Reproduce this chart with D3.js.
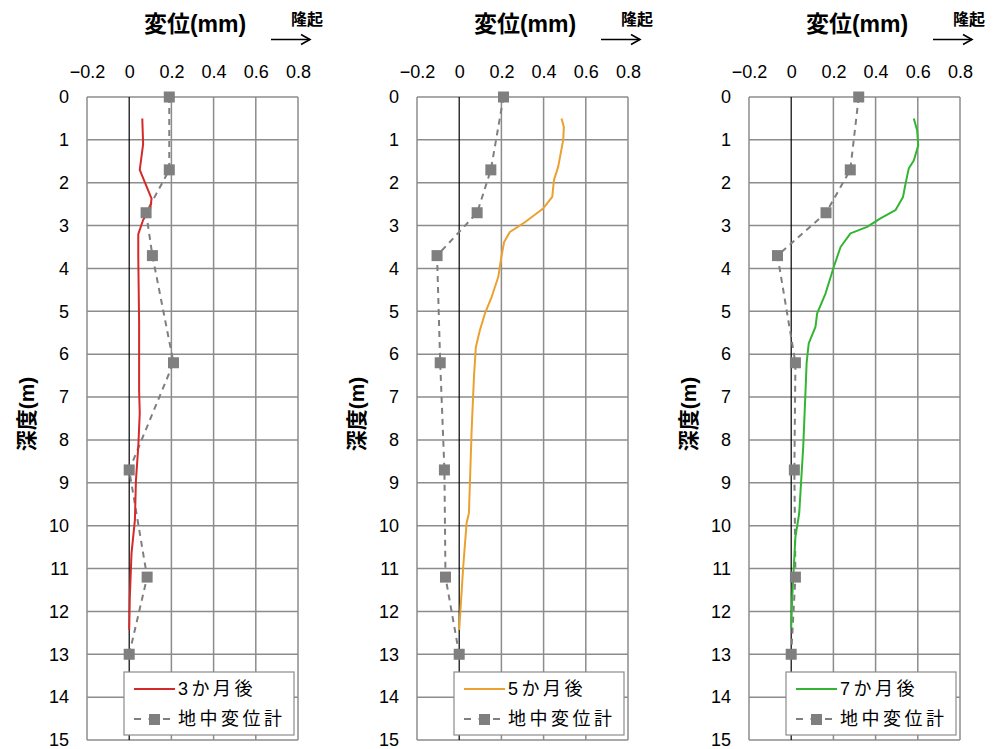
<!DOCTYPE html>
<html>
<head>
<meta charset="utf-8">
<script src="https://cdn.jsdelivr.net/npm/d3@7"></script>
<style>
  body { margin: 0; background: #fff; }
  svg { font-family: "Liberation Sans", Arial, "Noto Sans CJK JP", sans-serif; }
</style>
</head>
<body>
<svg id="chart" width="998" height="749"></svg>
<script>
// 目盛り
const xTicks = [-0.2, 0, 0.2, 0.4, 0.6, 0.8];
const yTicks = d3.range(0, 16);

// 地中変位計 (深度 m)
const gaugeDepth = [0, 1.7, 2.7, 3.7, 6.2, 8.7, 11.2, 13];
const gauge3 = [0.19, 0.19, 0.08, 0.11, 0.21, 0.0, 0.085, 0.0];
const gauge5 = [0.21, 0.15, 0.085, -0.105, -0.09, -0.07, -0.065, 0.0];
const gauge7 = [0.32, 0.28, 0.165, -0.065, 0.02, 0.015, 0.02, 0.0];

// 3か月後
const month3Depth = [0.5, 1.1, 1.7, 2.37, 2.6, 2.87, 3.2, 3.73, 5.28, 6.84, 7.38, 8.16, 8.94, 9.87, 10.64, 11.66, 12.43];
const month3Value = [0.062, 0.066, 0.05, 0.106, 0.10, 0.066, 0.043, 0.043, 0.047, 0.047, 0.05, 0.043, 0.032, 0.027, 0.011, 0.003, 0.0];

// 5か月後
const month5Depth = [0.5, 0.7, 1.0, 1.63, 1.94, 2.33, 2.6, 2.95, 3.15, 3.38, 3.73, 4.2, 4.66, 5.05, 5.44, 5.83, 6.53, 7.77, 9.71, 9.94, 10.96, 12.43];
const month5Value = [0.485, 0.496, 0.493, 0.469, 0.449, 0.441, 0.398, 0.303, 0.24, 0.213, 0.2, 0.185, 0.154, 0.122, 0.098, 0.079, 0.07, 0.059, 0.046, 0.035, 0.019, 0.0];

// 7か月後
const month7Depth = [0.5, 0.78, 1.13, 1.48, 1.67, 2.02, 2.33, 2.64, 2.83, 3.03, 3.18, 3.5, 3.96, 4.58, 5.05, 5.36, 5.75, 6.21, 6.84, 8.16, 9.71, 10.26, 11.66, 12.39];
const month7Value = [0.581, 0.597, 0.602, 0.581, 0.557, 0.542, 0.53, 0.494, 0.423, 0.36, 0.281, 0.234, 0.202, 0.163, 0.123, 0.115, 0.083, 0.073, 0.068, 0.057, 0.038, 0.02, 0.005, 0.0];

const panels = [
  { left: 87, label: "3か月後", color: "#d42a2a", depth: month3Depth, value: month3Value, gauge: gauge3 },
  { left: 417, label: "5か月後", color: "#eba12f", depth: month5Depth, value: month5Value, gauge: gauge5 },
  { left: 749, label: "7か月後", color: "#33b533", depth: month7Depth, value: month7Value, gauge: gauge7 }
];

const svg = d3.select("#chart");
const plotW = 211;
const plotTop = 97, plotBottom = 740;
const gridColor = "#8c8c8c";
const gaugeColor = "#7f7f7f";

const y = d3.scaleLinear().domain([0, 15]).range([plotTop, plotBottom]);

panels.forEach(p => {
  const x = d3.scaleLinear().domain([-0.2, 0.8]).range([p.left, p.left + plotW]);
  const g = svg.append("g");

  // グリッド
  g.append("g").selectAll("line")
    .data(yTicks)
    .enter().append("line")
    .attr("x1", x(-0.2)).attr("x2", x(0.8))
    .attr("y1", d => y(d)).attr("y2", d => y(d))
    .attr("stroke", gridColor).attr("stroke-width", 1.5);

  g.append("g").selectAll("line")
    .data(xTicks)
    .enter().append("line")
    .attr("x1", d => x(d)).attr("x2", d => x(d))
    .attr("y1", plotTop).attr("y2", plotBottom)
    .attr("stroke", d => d === 0 ? "#000" : gridColor)
    .attr("stroke-width", d => d === 0 ? 1.2 : 1.5);

  // 軸ラベル
  const xAxis = g.append("g")
    .attr("transform", `translate(0,${plotTop})`)
    .call(d3.axisTop(x).tickValues(xTicks).tickSize(0).tickPadding(19).tickFormat(d => d === 0 ? "0" : d3.format(".1f")(d)));
  xAxis.select(".domain").remove();
  xAxis.selectAll("text").style("font-size", "18px").attr("fill", "#000");

  const yAxis = g.append("g")
    .attr("transform", `translate(${p.left},0)`)
    .call(d3.axisLeft(y).tickValues(yTicks).tickSize(0).tickPadding(18).tickFormat(d3.format("d")));
  yAxis.select(".domain").remove();
  yAxis.selectAll("text").style("font-size", "18px").attr("fill", "#000");

  // タイトル
  g.append("text")
    .attr("x", p.left + 108).attr("y", 32)
    .attr("text-anchor", "middle")
    .style("font-size", "23px").style("font-weight", "bold")
    .text("変位(mm)");

  g.append("text")
    .attr("x", p.left + 220).attr("y", 25)
    .attr("text-anchor", "middle")
    .style("font-size", "16px").style("font-weight", "bold")
    .text("隆起");

  // 矢印
  const ay = 39.5, ax1 = p.left + 184, ax2 = p.left + 223;
  g.append("line")
    .attr("x1", ax1).attr("x2", ax2).attr("y1", ay).attr("y2", ay)
    .attr("stroke", "#000").attr("stroke-width", 1.6);
  g.append("path")
    .attr("d", `M${ax2 - 9},${ay - 5} L${ax2},${ay} L${ax2 - 9},${ay + 5}`)
    .attr("fill", "none").attr("stroke", "#000").attr("stroke-width", 1.6);

  // 深度ラベル
  g.append("text")
    .attr("transform", `translate(${p.left - 60},414) rotate(-90)`)
    .attr("text-anchor", "middle")
    .attr("dy", "0.35em")
    .style("font-size", "21px").style("font-weight", "bold")
    .text("深度(m)");

  // 地中変位計
  const gaugeData = gaugeDepth.map((d, i) => ({ depth: d, value: p.gauge[i] }));
  const lineG = d3.line().x(d => x(d.value)).y(d => y(d.depth));
  g.append("path")
    .datum(gaugeData)
    .attr("d", lineG)
    .attr("fill", "none")
    .attr("stroke", gaugeColor).attr("stroke-width", 2)
    .attr("stroke-dasharray", "6,5");

  // 計測値
  const curve = p.depth.map((d, i) => ({ depth: d, value: p.value[i] }));
  g.append("path")
    .datum(curve)
    .attr("d", lineG)
    .attr("fill", "none")
    .attr("stroke", p.color).attr("stroke-width", 2)
    .attr("stroke-linejoin", "round");

  g.append("g").selectAll("rect")
    .data(gaugeData)
    .enter().append("rect")
    .attr("x", d => x(d.value) - 5.5).attr("y", d => y(d.depth) - 5.5)
    .attr("width", 11).attr("height", 11)
    .attr("fill", gaugeColor);

  // 凡例
  const lg = g.append("g").attr("transform", `translate(${p.left + 37},672)`);
  lg.append("rect")
    .attr("width", 170).attr("height", 63)
    .attr("fill", "#fff").attr("stroke", gridColor).attr("stroke-width", 1.2);
  lg.append("line")
    .attr("x1", 10).attr("x2", 51).attr("y1", 17).attr("y2", 17)
    .attr("stroke", p.color).attr("stroke-width", 2);
  lg.append("text")
    .attr("x", 54).attr("y", 23)
    .style("font-size", "18px").style("letter-spacing", "3.5px")
    .text(p.label);
  lg.append("line")
    .attr("x1", 10).attr("x2", 51).attr("y1", 47).attr("y2", 47)
    .attr("stroke", gaugeColor).attr("stroke-width", 2)
    .attr("stroke-dasharray", "7,7.5");
  lg.append("rect")
    .attr("x", 25).attr("y", 42).attr("width", 11).attr("height", 11)
    .attr("fill", gaugeColor);
  lg.append("text")
    .attr("x", 54).attr("y", 53)
    .style("font-size", "18px").style("letter-spacing", "3.5px")
    .text("地中変位計");
});
</script>
</body>
</html>
